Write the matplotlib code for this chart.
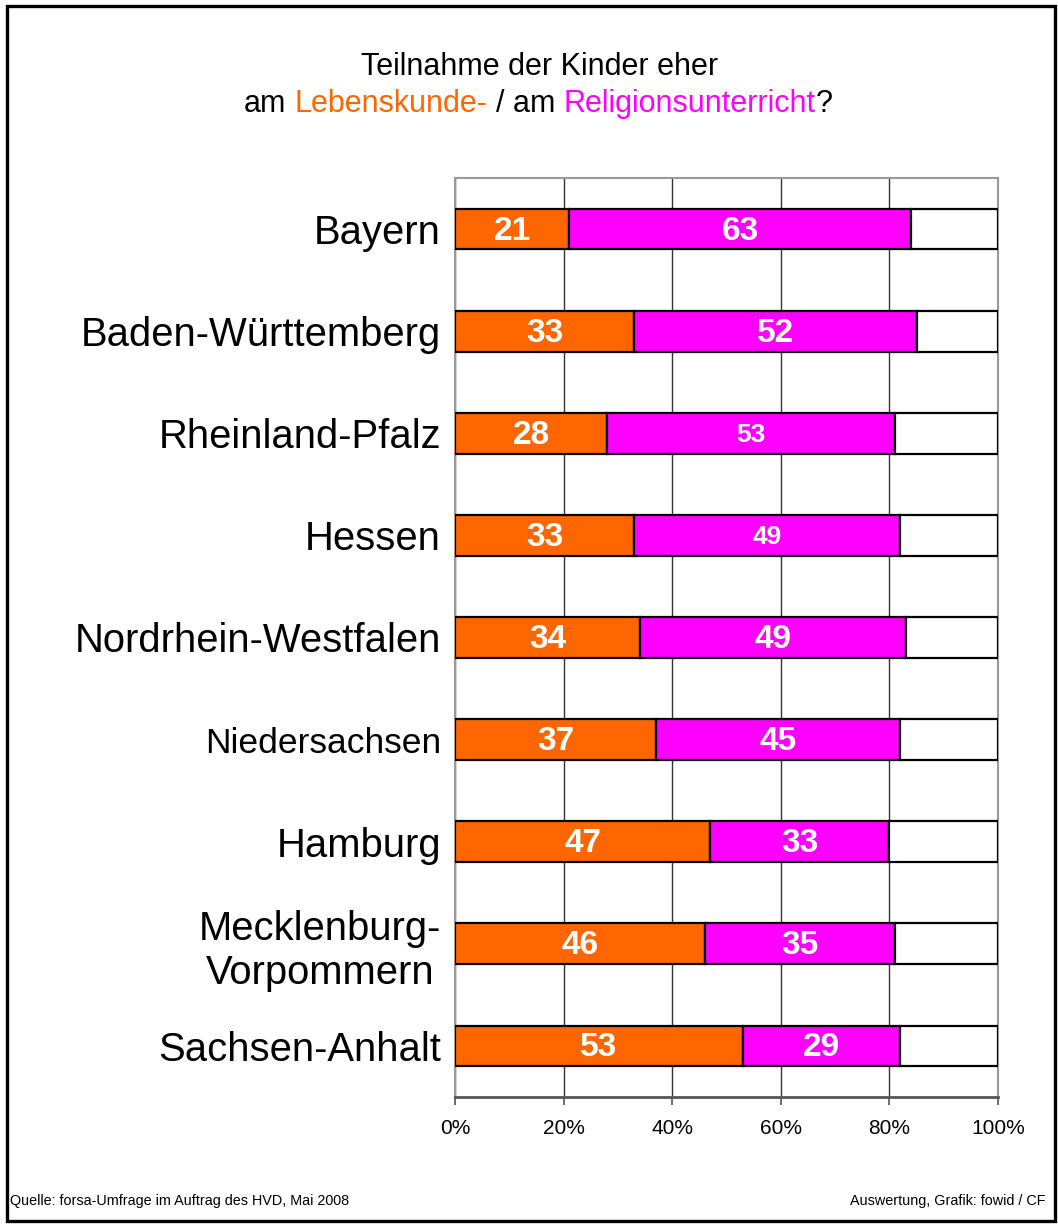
import matplotlib
matplotlib.use("Agg")
import matplotlib.pyplot as plt
from matplotlib import font_manager
from matplotlib.patches import Rectangle

# Data (percent)
states = ["Bayern", "Baden-Württemberg", "Rheinland-Pfalz", "Hessen",
          "Nordrhein-Westfalen", "Niedersachsen", "Hamburg",
          "Mecklenburg-\nVorpommern", "Sachsen-Anhalt"]
lebenskunde = [21, 33, 28, 33, 34, 37, 47, 46, 53]
religion = [63, 52, 53, 49, 49, 45, 33, 35, 29]
x_ticks = [0, 20, 40, 60, 80, 100]
x_tick_labels = ["0%", "20%", "40%", "60%", "80%", "100%"]

ORANGE = "#FF6600"
MAGENTA = "#FF00FF"

names = {f.name for f in font_manager.fontManager.ttflist}
NARROW = "Liberation Sans Narrow" if "Liberation Sans Narrow" in names else "Liberation Sans"
plt.rcParams["font.family"] = ["Liberation Sans", "DejaVu Sans"]

fig = plt.figure(figsize=(10.58, 12.29), dpi=100)
ax = fig.add_axes([455 / 1058, 132 / 1229, 543 / 1058, 919 / 1229])

y = list(range(len(states)))
rest = [100 - a - b for a, b in zip(lebenskunde, religion)]
left2 = lebenskunde
left3 = [a + b for a, b in zip(lebenskunde, religion)]

ax.barh(y, lebenskunde, height=0.4, color=ORANGE, edgecolor="black", linewidth=1.6, zorder=3)
ax.barh(y, religion, left=left2, height=0.4, color=MAGENTA, edgecolor="black", linewidth=1.6, zorder=3)
ax.barh(y, rest, left=left3, height=0.4, color="white", edgecolor="black", linewidth=1.6, zorder=3)

# value labels inside the segments
for i in range(len(states)):
    ax.text(lebenskunde[i] / 2, i + 0.02, str(lebenskunde[i]), ha="center", va="center",
            color="white", fontsize=24, fontweight="bold", zorder=4)
    small = states[i] in ("Rheinland-Pfalz", "Hessen")
    ax.text(lebenskunde[i] + religion[i] / 2, i + 0.02, str(religion[i]), ha="center", va="center",
            color="white", fontsize=19 if small else 24, fontweight="bold", zorder=4)

ax.set_xlim(0, 100)
ax.set_ylim(len(states) - 0.5, -0.5)
ax.set_xticks(x_ticks)
ax.set_xticklabels(x_tick_labels, fontsize=15)
ax.set_yticks(y)
ax.set_yticklabels(states)
for lab in ax.get_yticklabels():
    lab.set_fontsize(25.5 if lab.get_text() == "Niedersachsen" else 28.8)
    lab.set_multialignment("center")
ax.tick_params(axis="y", length=0, pad=10)
ax.tick_params(axis="x", direction="out", length=6, width=1.2, color="#555555", pad=10)

ax.grid(axis="x", color="#333333", linewidth=1.0, zorder=0)
ax.set_axisbelow(True)
for side in ("top", "left", "right"):
    ax.spines[side].set_color("#999999")
    ax.spines[side].set_linewidth(1.5)
ax.spines["bottom"].set_color("#555555")
ax.spines["bottom"].set_linewidth(2)

# figure frame
fig.patches.append(Rectangle((0.0066, 0.0065), 0.9906, 0.9886, transform=fig.transFigure,
                             fill=False, edgecolor="black", linewidth=2.4))

# title
fig.text(0.5102, 1 - 67 / 1229, "Teilnahme der Kinder eher", ha="center", va="center", fontsize=22)
y2 = 1 - 104 / 1229
first = fig.text(0.5, y2, "am", ha="left", va="center", fontsize=22, color="black")
parts = [("Lebenskunde-", ORANGE, 6.1), ("/ am", "black", 6.1),
         ("Religionsunterricht", MAGENTA, 6.1), ("?", "black", 0)]
prev = first
for txt, col, gap in parts:
    prev = ax.annotate(txt, xy=(1, 0), xycoords=prev, xytext=(gap, 0),
                       textcoords="offset points", ha="left", va="bottom",
                       fontsize=22, color=col, annotation_clip=False)
fig.canvas.draw()
r = fig.canvas.get_renderer()
x0 = first.get_window_extent(r).x0
x1 = prev.get_window_extent(r).x1
width = x1 - x0
first.set_x((538 - width / 2) / 1058)

# footer
foot_fs = 12.6 if NARROW != "Liberation Sans" else 10.4
fig.text(10 / 1058, 1 - 1201 / 1229, "Quelle: forsa-Umfrage im Auftrag des HVD, Mai 2008",
         ha="left", va="center", fontsize=foot_fs, family=[NARROW, "DejaVu Sans"])
fig.text(1045 / 1058, 1 - 1201 / 1229, "Auswertung, Grafik: fowid / CF",
         ha="right", va="center", fontsize=foot_fs, family=[NARROW, "DejaVu Sans"])

fig.savefig("out.png", dpi=100)
